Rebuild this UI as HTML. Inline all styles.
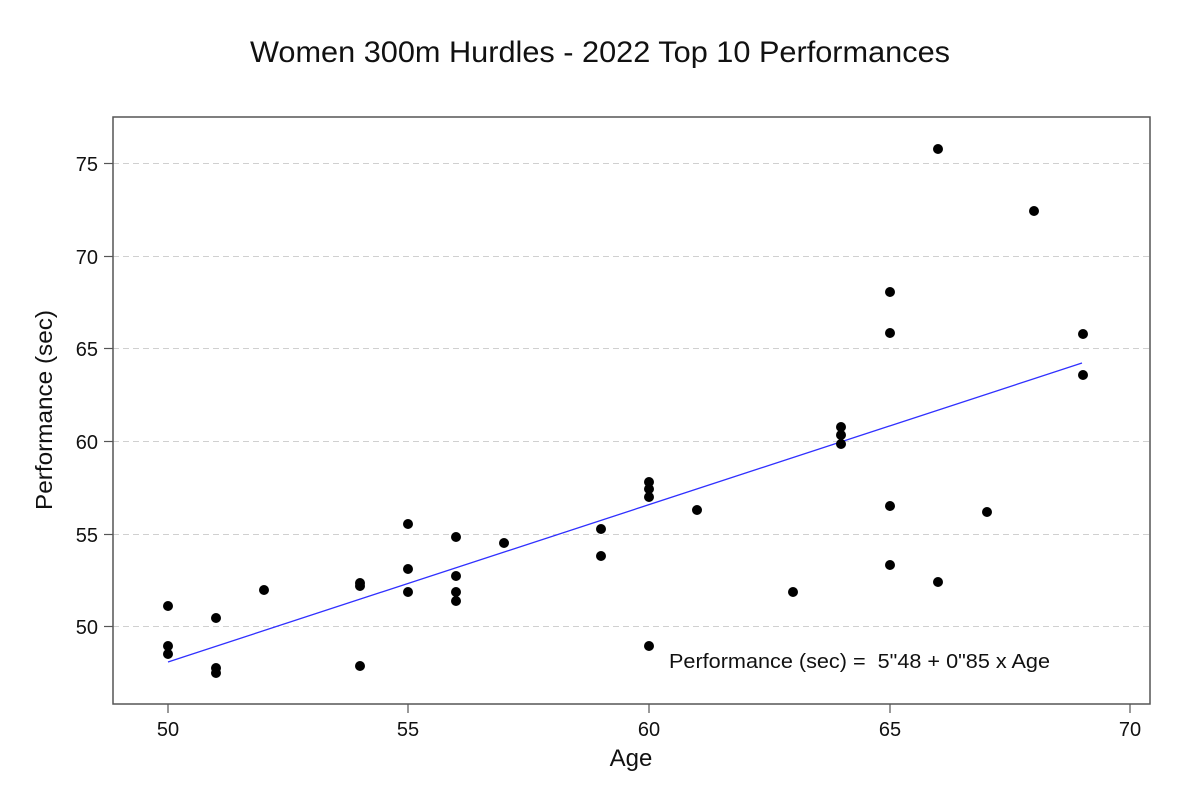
<!DOCTYPE html>
<html><head><meta charset="utf-8"><style>body{margin:0;background:#fff}svg{display:block}text{font-family:"Liberation Sans",Arial,sans-serif;fill:#111}</style></head><body>
<svg width="1200" height="798" viewBox="0 0 1200 798" xmlns="http://www.w3.org/2000/svg">
<rect width="1200" height="798" fill="#fff"/>
<text x="600" y="62" font-size="30" text-anchor="middle" textLength="700" lengthAdjust="spacingAndGlyphs">Women 300m Hurdles - 2022 Top 10 Performances</text>
<g stroke="#d0d0d0" stroke-dasharray="6,4" stroke-width="1">
<line x1="113" x2="1150" y1="163.5" y2="163.5"/><line x1="113" x2="1150" y1="256.5" y2="256.5"/><line x1="113" x2="1150" y1="348.5" y2="348.5"/><line x1="113" x2="1150" y1="441.5" y2="441.5"/><line x1="113" x2="1150" y1="534.5" y2="534.5"/><line x1="113" x2="1150" y1="626.5" y2="626.5"/>
</g>
<rect x="113" y="117" width="1037" height="587" fill="none" stroke="#555" stroke-width="1.5"/>
<g stroke="#555" stroke-width="1.2">
<line x1="104" x2="113" y1="163.5" y2="163.5"/><line x1="104" x2="113" y1="256.5" y2="256.5"/><line x1="104" x2="113" y1="348.5" y2="348.5"/><line x1="104" x2="113" y1="441.5" y2="441.5"/><line x1="104" x2="113" y1="534.5" y2="534.5"/><line x1="104" x2="113" y1="626.5" y2="626.5"/>
<line x1="168" x2="168" y1="704" y2="713"/><line x1="408" x2="408" y1="704" y2="713"/><line x1="649" x2="649" y1="704" y2="713"/><line x1="890" x2="890" y1="704" y2="713"/><line x1="1130" x2="1130" y1="704" y2="713"/>
</g>
<g font-size="20" text-anchor="end">
<text x="98" y="171">75</text><text x="98" y="264">70</text><text x="98" y="356">65</text><text x="98" y="449">60</text><text x="98" y="542">55</text><text x="98" y="634">50</text>
</g>
<g font-size="20" text-anchor="middle">
<text x="168" y="736">50</text><text x="408" y="736">55</text><text x="649" y="736">60</text><text x="890" y="736">65</text><text x="1130" y="736">70</text>
</g>
<text x="631" y="766" font-size="24" text-anchor="middle">Age</text>
<text transform="translate(52,410) rotate(-90)" font-size="23" text-anchor="middle" textLength="200" lengthAdjust="spacingAndGlyphs">Performance (sec)</text>
<line x1="168" y1="662" x2="1082" y2="363" stroke="#3030ff" stroke-width="1.3"/>
<g fill="#000">
<circle cx="168" cy="606" r="5"/><circle cx="168" cy="646" r="5"/><circle cx="168" cy="654" r="5"/><circle cx="216" cy="618" r="5"/><circle cx="216" cy="668" r="5"/><circle cx="216" cy="673" r="5"/><circle cx="264" cy="590" r="5"/><circle cx="360" cy="583" r="5"/><circle cx="360" cy="586" r="5"/><circle cx="360" cy="666" r="5"/><circle cx="408" cy="524" r="5"/><circle cx="408" cy="569" r="5"/><circle cx="408" cy="592" r="5"/><circle cx="456" cy="537" r="5"/><circle cx="456" cy="576" r="5"/><circle cx="456" cy="592" r="5"/><circle cx="456" cy="601" r="5"/><circle cx="504" cy="543" r="5"/><circle cx="601" cy="529" r="5"/><circle cx="601" cy="556" r="5"/><circle cx="649" cy="482" r="5"/><circle cx="649" cy="489" r="5"/><circle cx="649" cy="497" r="5"/><circle cx="649" cy="646" r="5"/><circle cx="697" cy="510" r="5"/><circle cx="793" cy="592" r="5"/><circle cx="841" cy="427" r="5"/><circle cx="841" cy="435" r="5"/><circle cx="841" cy="444" r="5"/><circle cx="890" cy="292" r="5"/><circle cx="890" cy="333" r="5"/><circle cx="890" cy="506" r="5"/><circle cx="890" cy="565" r="5"/><circle cx="938" cy="149" r="5"/><circle cx="938" cy="582" r="5"/><circle cx="987" cy="512" r="5"/><circle cx="1034" cy="211" r="5"/><circle cx="1083" cy="334" r="5"/><circle cx="1083" cy="375" r="5"/>
</g>
<text x="669" y="668" font-size="20" xml:space="preserve" textLength="381" lengthAdjust="spacingAndGlyphs">Performance (sec) =  5"48 + 0"85 x Age</text>
</svg>
</body></html>
